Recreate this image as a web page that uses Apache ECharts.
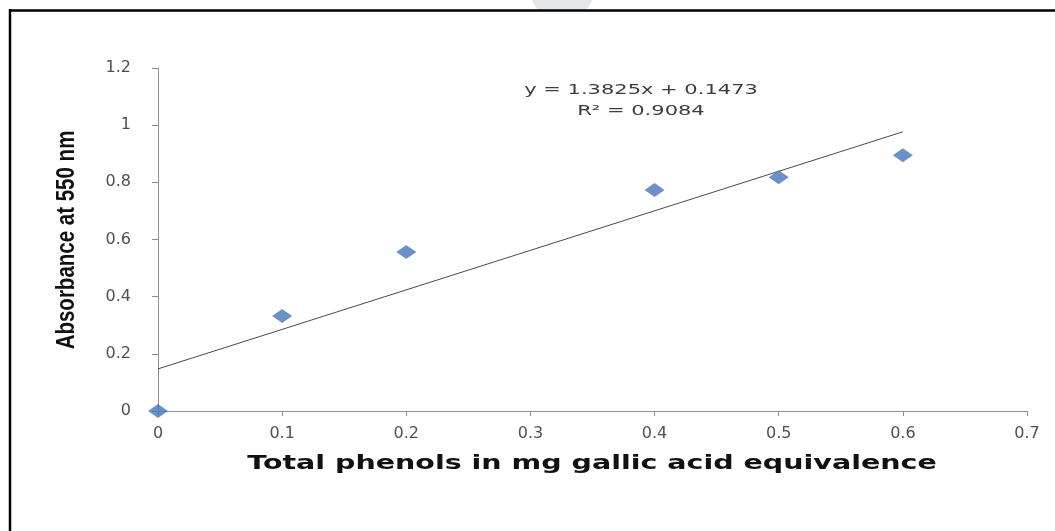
<!DOCTYPE html>
<html>
<head>
<meta charset="utf-8">
<script src="https://cdn.jsdelivr.net/npm/echarts@6/dist/echarts.min.js"></script>
<style>
html,body{margin:0;padding:0;background:#fff;}
#chart{width:1055px;height:531px;}
</style>
</head>
<body>
<div id="chart"></div>
<script>
// Data
const phenolX = [0, 0.1, 0.2, 0.4, 0.5, 0.6];
const absorbanceY = [0, 0.332, 0.556, 0.773, 0.818, 0.895];
// Trendline end points (from the printed fit y = 1.3825x + 0.1473)
const trendX = [0, 0.6];
const trendY = [0.1473, 0.9768];
const xTicks = [0, 0.1, 0.2, 0.3, 0.4, 0.5, 0.6, 0.7];
const yTicks = [0, 0.2, 0.4, 0.6, 0.8, 1, 1.2];
const equationText = 'y = 1.3825x + 0.1473';
const r2Text = 'R² = 0.9084';
const xTitle = 'Total phenols in mg gallic acid equivalence';
const yTitle = 'Absorbance at 550 nm';

const chart = echarts.init(document.getElementById('chart'), null, {renderer: 'canvas'});
const labelStyle = {color: '#505050', fontFamily: 'DejaVu Sans', fontSize: 16};
const axisLineStyle = {color: '#8e8e8e', width: 1};

chart.setOption({
  backgroundColor: '#ffffff',
  animation: false,
  grid: {left: 158, right: 28, top: 68, bottom: 120},
  xAxis: {
    type: 'value',
    min: xTicks[0], max: xTicks[xTicks.length - 1], interval: 0.1,
    axisLine: {show: true, lineStyle: axisLineStyle},
    axisTick: {show: true, length: 5, lineStyle: axisLineStyle},
    splitLine: {show: false},
    axisLabel: Object.assign({margin: 15, formatter: v => String(+v.toFixed(1))}, labelStyle)
  },
  yAxis: {
    type: 'value',
    min: yTicks[0], max: yTicks[yTicks.length - 1], interval: 0.2,
    axisLine: {show: true, lineStyle: axisLineStyle},
    axisTick: {show: true, length: 6, lineStyle: axisLineStyle},
    splitLine: {show: false},
    axisLabel: Object.assign({margin: 27, formatter: v => String(+v.toFixed(1))}, labelStyle)
  },
  series: [
    {
      type: 'line',
      data: trendX.map((x, i) => [x, trendY[i]]),
      symbol: 'none',
      lineStyle: {color: '#4a4a4a', width: 1},
      z: 2
    },
    {
      type: 'scatter',
      data: phenolX.map((x, i) => [x, absorbanceY[i]]),
      symbol: 'diamond',
      symbolSize: [20, 14],
      itemStyle: {color: '#4677b8'},
      z: 3
    }
  ],
  graphic: [
    {type: 'circle', shape: {cx: 562, cy: -11, r: 32}, style: {fill: '#e3e7ea'}, z: 1},
    {type: 'rect', shape: {x: 0, y: 11, width: 1055, height: 40}, style: {fill: '#ffffff'}, z: 2, silent: true},
    {type: 'line', shape: {x1: 9, y1: 10.5, x2: 1055, y2: 10.5}, style: {stroke: '#000', lineWidth: 2.5}, z: 5},
    {type: 'line', shape: {x1: 10, y1: 9, x2: 10, y2: 531}, style: {stroke: '#000', lineWidth: 2.5}, z: 5},
    {
      type: 'text', x: 641, y: 90, scaleX: 1.5, z: 6,
      style: {text: equationText, fontFamily: 'DejaVu Sans', fontSize: 14, fill: '#3d3d3d', textAlign: 'center', textVerticalAlign: 'middle'}
    },
    {
      type: 'text', x: 641, y: 111, scaleX: 1.5, z: 6,
      style: {text: r2Text, fontFamily: 'DejaVu Sans', fontSize: 14, fill: '#3d3d3d', textAlign: 'center', textVerticalAlign: 'middle'}
    },
    {
      type: 'text', x: 592, y: 464, scaleX: 1.5, z: 6,
      style: {text: xTitle, fontFamily: 'DejaVu Sans', fontWeight: 'bold', fontSize: 19, fill: '#111111', textAlign: 'center', textVerticalAlign: 'middle'}
    },
    {
      type: 'text', x: 67, y: 240, rotation: Math.PI / 2, scaleX: 0.82, z: 6,
      style: {text: yTitle, fontFamily: '"Liberation Sans Narrow", "Liberation Sans", sans-serif', fontWeight: 'bold', fontSize: 25, fill: '#111111', textAlign: 'center', textVerticalAlign: 'middle'}
    }
  ]
});
</script>
</body>
</html>
